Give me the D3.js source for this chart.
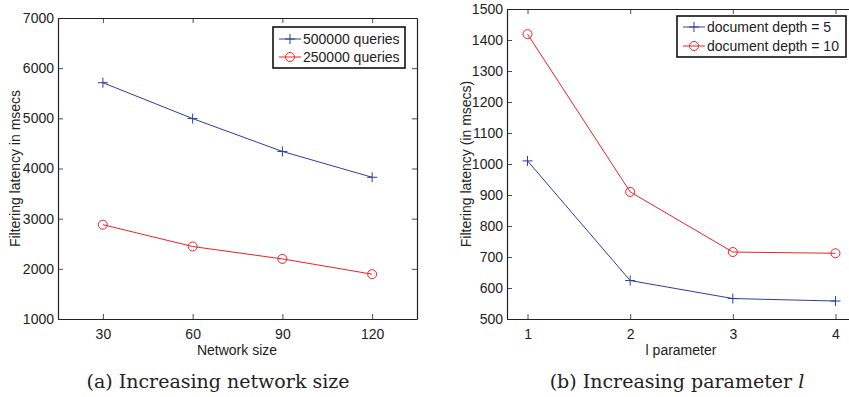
<!DOCTYPE html>
<html>
<head>
<meta charset="utf-8">
<script src="https://cdn.jsdelivr.net/npm/d3@7"></script>
<style>
  html, body { margin: 0; padding: 0; background: #fff; }
  svg { display: block; }
</style>
</head>
<body>
<svg id="fig" width="849" height="397"></svg>
<script>
// Panel (a): filtering latency vs. network size
const networkSizes = [30, 60, 90, 120];
const latency500k = [5710, 4995, 4340, 3825];
const latency250k = [2880, 2445, 2198, 1893];
const aYTicks = [1000, 2000, 3000, 4000, 5000, 6000, 7000];
const aSeriesNames = ["500000 queries", "250000 queries"];

// Panel (b): filtering latency vs. l parameter
const lParams = [1, 2, 3, 4];
const latencyDepth5 = [1010, 624, 566, 558];
const latencyDepth10 = [1419, 910, 716, 712];
const bYTicks = [500, 600, 700, 800, 900, 1000, 1100, 1200, 1300, 1400, 1500];
const bSeriesNames = ["document depth = 5", "document depth = 10"];

const BLUE = "#2b3ea0";
const RED = "#ec2228";
const svg = d3.select("#fig");
const font = '"Liberation Sans", Arial, sans-serif';
const fmt = d3.format("d");

function panel(cfg) {
  const g = svg.append("g");
  const x = d3.scaleLinear().domain(cfg.xDomain).range([cfg.left, cfg.right]);
  const y = d3.scaleLinear().domain(cfg.yDomain).range([cfg.bottom, cfg.top]);

  // inward ticks on all four sides of the box
  const tick = 5;
  const axB = d3.axisBottom(x).tickValues(cfg.xTicks).tickFormat(fmt).tickSizeInner(-tick).tickSizeOuter(0).tickPadding(10);
  const axT = d3.axisTop(x).tickValues(cfg.xTicks).tickSizeInner(-tick).tickSizeOuter(0).tickFormat("");
  const axL = d3.axisLeft(y).tickValues(cfg.yTicks).tickFormat(fmt).tickSizeInner(-tick).tickSizeOuter(0).tickPadding(4);
  const axR = d3.axisRight(y).tickValues(cfg.yTicks).tickSizeInner(-tick).tickSizeOuter(0).tickFormat("");

  const style = sel => {
    sel.attr("font-family", font).attr("font-size", 14);
    sel.selectAll(".domain").attr("stroke", "#222").attr("stroke-width", 1.2);
    sel.selectAll(".tick line").attr("stroke", "#222").attr("stroke-width", 0.8);
    sel.selectAll(".tick text").attr("fill", "#222");
  };
  g.append("g").attr("transform", `translate(0,${cfg.bottom})`).call(axB).call(style);
  g.append("g").attr("transform", `translate(0,${cfg.top})`).call(axT).call(style);
  g.append("g").attr("transform", `translate(${cfg.left},0)`).call(axL).call(style);
  g.append("g").attr("transform", `translate(${cfg.right},0)`).call(axR).call(style);

  const line = d3.line().x((d, i) => x(cfg.xs[i])).y(d => y(d));
  const series = [
    { vals: cfg.s1, color: BLUE, marker: "plus", name: cfg.names[0] },
    { vals: cfg.s2, color: RED, marker: "circle", name: cfg.names[1] }
  ];
  const drawMarker = (sel, type, color, cx, cy) => {
    if (type === "plus") {
      sel.append("path").attr("d", `M${cx - 5},${cy}H${cx + 5}M${cx},${cy - 5}V${cy + 5}`)
        .attr("stroke", color).attr("stroke-width", 1).attr("fill", "none");
    } else {
      sel.append("circle").attr("cx", cx).attr("cy", cy).attr("r", 4.5)
        .attr("stroke", color).attr("stroke-width", 1).attr("fill", "none");
    }
  };
  series.forEach(s => {
    g.append("path").datum(s.vals).attr("d", line)
      .attr("fill", "none").attr("stroke", s.color).attr("stroke-width", 1);
    s.vals.forEach((v, i) => drawMarker(g, s.marker, s.color, x(cfg.xs[i]), y(v)));
  });

  // legend
  const L = cfg.legend;
  g.append("rect").attr("x", L.x).attr("y", L.y).attr("width", L.w).attr("height", L.h)
    .attr("fill", "#fff").attr("stroke", "#111").attr("stroke-width", 1.6);
  series.forEach((s, i) => {
    const ly = L.y + L.row0 + i * L.dy;
    g.append("line").attr("x1", L.x + 6).attr("x2", L.x + 28).attr("y1", ly).attr("y2", ly)
      .attr("stroke", s.color).attr("stroke-width", 1);
    drawMarker(g, s.marker, s.color, L.x + 17, ly);
    g.append("text").attr("x", L.x + 30).attr("y", ly + 5)
      .attr("font-family", font).attr("font-size", 14).attr("fill", "#222").text(s.name);
  });

  // axis titles
  g.append("text").attr("x", cfg.xLabelX).attr("y", 355)
    .attr("text-anchor", "middle").attr("font-family", font).attr("font-size", 14).attr("fill", "#222")
    .text(cfg.xLabel);
  g.append("text")
    .attr("transform", `translate(${cfg.yLabelX},${(cfg.top + cfg.bottom) / 2}) rotate(-90)`)
    .attr("text-anchor", "middle").attr("font-family", font).attr("font-size", 14).attr("fill", "#222")
    .text(cfg.yLabel);

  // caption
  const cap = g.append("text").attr("x", cfg.capX).attr("y", 388).attr("text-anchor", "middle")
    .attr("font-family", '"DejaVu Serif", "Liberation Serif", serif').attr("font-size", 19).attr("fill", "#222");
  cfg.caption(cap);
}

panel({
  left: 58, right: 417, top: 18, bottom: 319,
  xDomain: [15, 135], yDomain: [1000, 7000],
  xTicks: networkSizes, yTicks: aYTicks,
  xs: networkSizes, s1: latency500k, s2: latency250k, names: aSeriesNames,
  legend: { x: 273, y: 27, w: 132, h: 41, row0: 12, dy: 18 },
  xLabel: "Network size", xLabelX: 237,
  yLabel: "Filtering latency in msecs", yLabelX: 20,
  capX: 218,
  caption: t => t.text("(a) Increasing network size")
});

panel({
  left: 507, right: 856, top: 9, bottom: 319,
  xDomain: [0.8, 4.2], yDomain: [500, 1500],
  xTicks: lParams, yTicks: bYTicks,
  xs: lParams, s1: latencyDepth5, s2: latencyDepth10, names: bSeriesNames,
  legend: { x: 677, y: 16, w: 169, h: 41, row0: 11, dy: 19 },
  xLabel: "l parameter", xLabelX: 681,
  yLabel: "Filtering latency (in msecs)", yLabelX: 471,
  capX: 677,
  caption: t => {
    t.append("tspan").text("(b) Increasing parameter ");
    t.append("tspan").attr("font-style", "italic").text("l");
  }
});
</script>
</body>
</html>
